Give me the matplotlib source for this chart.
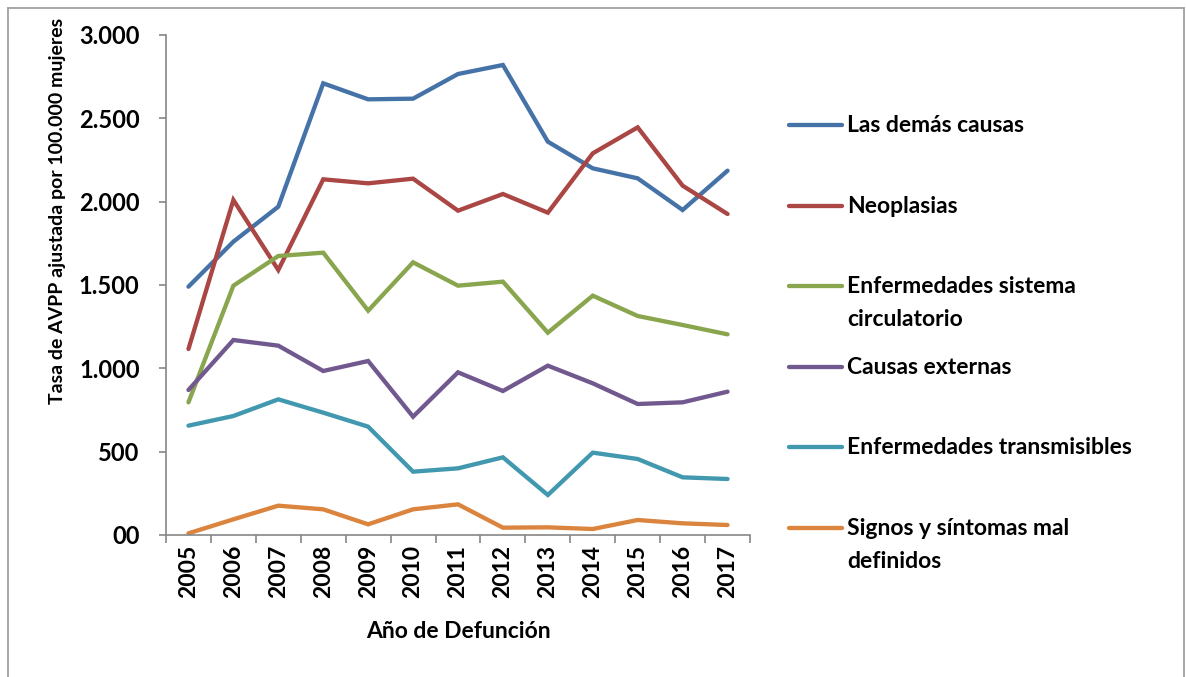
import matplotlib.pyplot as plt
from matplotlib.lines import Line2D
import numpy as np

plt.rcParams['font.family'] = ['Lato', 'DejaVu Sans']

years = ['2005', '2006', '2007', '2008', '2009', '2010', '2011',
         '2012', '2013', '2014', '2015', '2016', '2017']

# tasa de AVPP por causa
demas_causas = [1490, 1760, 1970, 2710, 2614, 2618, 2766, 2820, 2360, 2200, 2140, 1950, 2186]
neoplasias = [1116, 2010, 1590, 2134, 2110, 2138, 1946, 2046, 1934, 2290, 2446, 2096, 1926]
circulatorio = [796, 1496, 1674, 1694, 1346, 1636, 1496, 1520, 1214, 1436, 1314, 1260, 1204]
externas = [870, 1170, 1136, 984, 1044, 710, 976, 864, 1016, 910, 786, 796, 860]
transmisibles = [656, 714, 814, 734, 650, 380, 400, 466, 240, 494, 456, 346, 336]
mal_definidos = [10, 94, 176, 154, 64, 154, 184, 44, 46, 36, 90, 70, 60]

series_names = ['Las demás causas', 'Neoplasias', 'Enfermedades sistema\ncirculatorio',
                'Causas externas', 'Enfermedades transmisibles', 'Signos y síntomas mal\ndefinidos']
series_vals = [demas_causas, neoplasias, circulatorio, externas, transmisibles, mal_definidos]
colors = ['#4572A7', '#AA4643', '#89A54E', '#71588F', '#4198AF', '#DB843D']

y_ticks = [0, 500, 1000, 1500, 2000, 2500, 3000]
y_labels = ['00', '500', '1.000', '1.500', '2.000', '2.500', '3.000']

W, H = 1186, 677
fig = plt.figure(figsize=(W / 100, H / 100), dpi=100)
ax = fig.add_axes([166 / W, 1 - 535 / H, (750 - 166) / W, (535 - 35) / H])

x = np.arange(len(years))
for vals, c in zip(series_vals, colors):
    ax.plot(x, vals, color=c, lw=3.1, solid_capstyle='round', solid_joinstyle='miter')

ax.set_xlim(-0.5, len(years) - 0.5)
ax.set_ylim(0, 3000)

ax.set_yticks(y_ticks)
ax.set_yticklabels(y_labels, fontsize=17, fontweight='bold')
ax.set_xticks(x)
ax.set_xticklabels(years, rotation=90, fontsize=16.5, fontweight='bold')
ax.tick_params(axis='x', length=0, pad=7)
ax.set_xticks(np.arange(-0.5, len(years)), minor=True)
ax.tick_params(axis='x', which='minor', length=6, color='#868686', width=1.2)
ax.tick_params(axis='y', length=5, color='#868686', width=1.2, pad=14)

for s in ['top', 'right']:
    ax.spines[s].set_visible(False)
for s in ['left', 'bottom']:
    ax.spines[s].set_color('#868686')
    ax.spines[s].set_linewidth(1.2)

fig.text(458 / W, 1 - 632 / H, 'Año de Defunción', ha='center', va='center',
         fontsize=16.5, fontweight='bold')
fig.text(58 / W, 1 - 211 / H, 'Tasa de AVPP ajustada por 100.000 mujeres', ha='center',
         va='center', rotation=90, fontsize=14, fontweight='bold')

# leyenda a mano (espaciado irregular como el original)
legend_y = [125, 206, 286, 367, 447, 528]
for name, c, ly in zip(series_names, colors, legend_y):
    yy = 1 - ly / H
    fig.add_artist(Line2D([789 / W, 842 / W], [yy, yy], color=c, lw=3.1,
                          solid_capstyle='round'))
    extra = 33 * name.count('\n')
    fig.text(847 / W, 1 - (ly + 7 + extra) / H, name, ha='left', va='baseline',
             fontsize=16.5, fontweight='bold', linespacing=1.7)

# marco exterior
for xs, ys in [([8, 8], [8, H]), ([8, 1184], [8, 8]), ([1184, 1184], [8, H])]:
    fig.add_artist(Line2D([v / W for v in xs], [1 - v / H for v in ys], color='#9a9a9a', lw=1.2))

fig.savefig('out.png', dpi=100)
